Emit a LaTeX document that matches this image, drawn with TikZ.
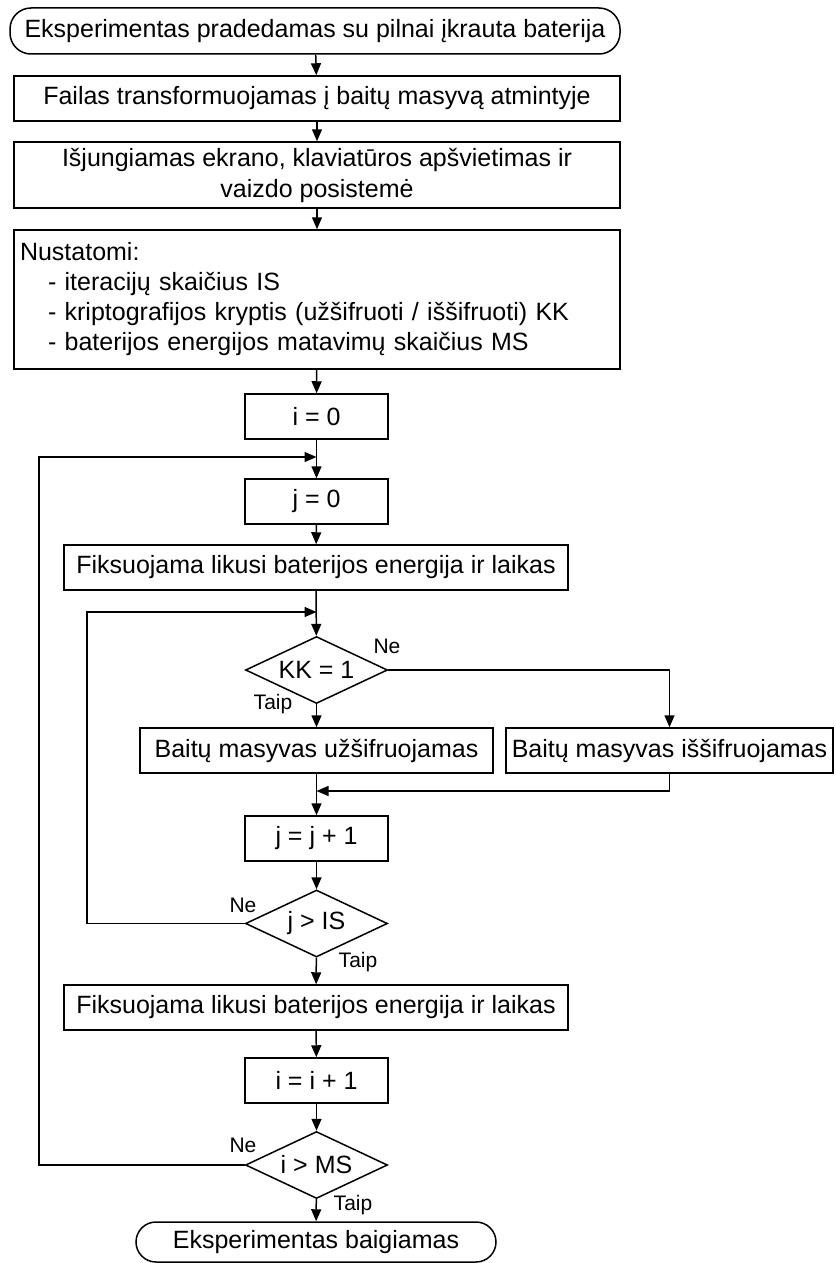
\documentclass[tikz,border=0pt]{standalone}
\usepackage{fontspec}
\setmainfont{Liberation Sans}
\usetikzlibrary{shapes.geometric,arrows.meta}

\begin{document}
\begin{tikzpicture}[x=1pt,y=-1pt,
  font=\fontsize{25}{30}\selectfont,
  every path/.style={line width=1.5pt},
  box/.style={draw, rectangle, inner sep=0pt, align=center, minimum height=45pt},
  term/.style={draw, rectangle, rounded corners=21pt, inner sep=0pt, align=center},
  decide/.style={draw, diamond, aspect=2.1, inner sep=0pt, minimum width=142pt, minimum height=67pt},
  lbl/.style={inner sep=0pt, font=\fontsize{21}{24}\selectfont},
  arr/.style={-{Triangle[length=12pt,width=10pt]}}
]
\useasboundingbox (0,0) rectangle (835,1263);

% main column
\node[term, minimum width=610pt, minimum height=46pt] (start) at (315,31) {Eksperimentas pradedamas su pilnai įkrauta baterija};
\node[box, minimum width=606pt] (file) at (317,98.5) {Failas transformuojamas į baitų masyvą atmintyje};
\node[box, minimum width=606pt, minimum height=66pt, font=\fontsize{25}{31}\selectfont] (off) at (317,175) {Išjungiamas ekrano, klaviatūros apšvietimas ir\\vaizdo posistemė};
\node[box, minimum width=606pt, minimum height=139pt, text width=594pt, align=left] (set) at (317,299.5)
  {Nustatomi:\\
   \hspace*{28pt}- iteracijų skaičius IS\\
   \hspace*{28pt}- kriptografijos kryptis (užšifruoti / iššifruoti) KK\\
   \hspace*{28pt}- baterijos energijos matavimų skaičius MS};
\node[box, minimum width=143pt] (i0) at (316.5,416.5) {i = 0};
\node[box, minimum width=143pt] (j0) at (316.5,501.5) {j = 0};
\node[box, minimum width=504pt] (fix1) at (316,567.5) {Fiksuojama likusi baterijos energija ir laikas};
\node[decide] (kk) at (316.5,670) {KK = 1};
\node[box, minimum width=353pt] (enc) at (316.5,750.5) {Baitų masyvas užšifruojamas};
\node[box, minimum width=327pt] (dec) at (669.5,750.5) {Baitų masyvas iššifruojamas};
\node[box, minimum width=143pt] (jinc) at (316.5,838.5) {j = j + 1};
\node[decide] (js) at (316.5,923.5) {j > IS};
\node[box, minimum width=504pt] (fix2) at (316,1007.5) {Fiksuojama likusi baterijos energija ir laikas};
\node[box, minimum width=143pt] (iinc) at (316.5,1080.5) {i = i + 1};
\node[decide] (ms) at (316.5,1165) {i > MS};
\node[term, minimum width=360pt, minimum height=40pt, rounded corners=20pt] (end) at (316,1242) {Eksperimentas baigiamas};

% branch labels
\node[lbl] (kkne) at (387,646) {Ne};
\node[lbl] (kktaip) at (273,704) {Taip};
\node[lbl] (jsne) at (243,905) {Ne};
\node[lbl] (jstaip) at (358,962) {Taip};
\node[lbl] (msne) at (243,1145) {Ne};
\node[lbl] (mstaip) at (353,1205) {Taip};

% loop junctions
\coordinate (outerJ) at (316.5,457);
\coordinate (outerL) at (39,457);
\coordinate (innerJ) at (316.5,612);
\coordinate (innerL) at (87,612);
\coordinate (mergeJ) at (316.5,791);

% straight flow
\draw[arr] (start) -- (file);
\draw[arr] (file) -- (off);
\draw[arr] (off) -- (set);
\draw[arr] (set) -- (i0);
\draw[arr] (i0) -- (j0);
\draw[arr] (j0) -- (fix1);
\draw[arr] (fix1) -- (kk);
\draw[arr] (kk) -- (enc);
\draw[arr] (kk.east) -| (dec.north);
\draw[arr] (dec.south) |- (mergeJ);
\draw[arr] (enc) -- (jinc);
\draw[arr] (jinc) -- (js);
\draw[arr] (js) -- (fix2);
\draw[arr] (fix2) -- (iinc);
\draw[arr] (iinc) -- (ms);
\draw[arr] (ms) -- (end);

% loops back
\draw[arr] (js.west) -| (innerL) -- (innerJ);
\draw[arr] (ms.west) -| (outerL) -- (outerJ);
\end{tikzpicture}
\end{document}
